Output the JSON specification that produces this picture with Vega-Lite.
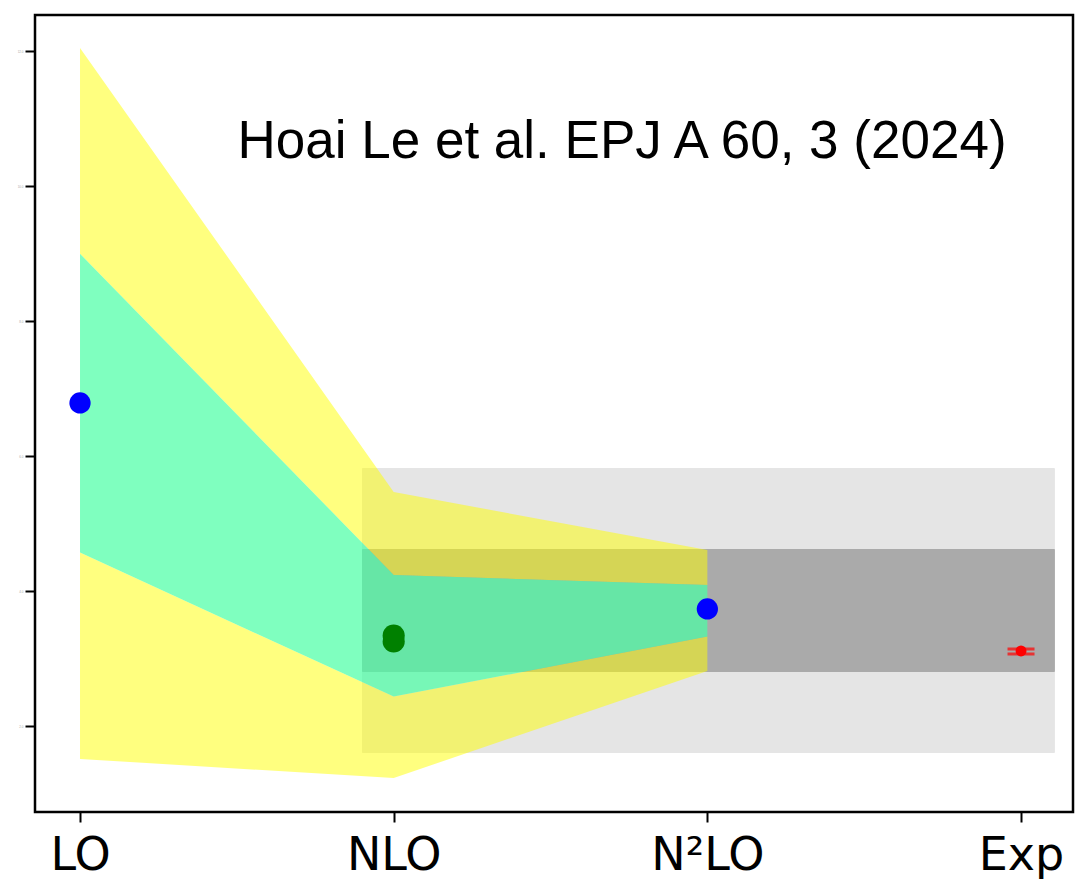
{
  "$schema": "https://vega.github.io/schema/vega-lite/v6.json",
  "width": 1038,
  "height": 797,
  "autosize": {"type": "none"},
  "padding": {"left": 35, "top": 15, "right": 3, "bottom": 67},
  "background": "white",
  "config": {
    "view": {"stroke": "black", "strokeWidth": 2.5},
    "axis": {"grid": false, "domain": false, "title": null, "tickColor": "black", "tickWidth": 2, "tickSize": 10}
  },
  "datasets": {
    "bands": [
      {"order": 0, "yellow_hi": 12.049, "yellow_lo": 1.516, "green_hi": 9.0, "green_lo": 4.573},
      {"order": 1, "yellow_hi": 5.471, "yellow_lo": 1.234, "green_hi": 4.241, "green_lo": 2.44},
      {"order": 2, "yellow_hi": 4.612, "yellow_lo": 2.819, "green_hi": 4.093, "green_lo": 3.329}
    ],
    "boxes": [
      {"shade": "light", "x0": 0.899, "x1": 3.108, "lo": 1.605, "hi": 5.827},
      {"shade": "dark", "x0": 0.899, "x1": 3.108, "lo": 2.804, "hi": 4.627}
    ],
    "points": [
      {"order": 0, "value": 6.79, "series": "blue"},
      {"order": 2, "value": 3.738, "series": "blue"},
      {"order": 1, "value": 3.345, "series": "green"},
      {"order": 1, "value": 3.256, "series": "green"}
    ],
    "exp": [
      {"order": 3, "value": 3.116, "lo": 3.071, "hi": 3.145}
    ],
    "note": [
      {"order": 1.728, "value": 10.42, "text": "Hoai Le et al. EPJ A 60, 3 (2024)"}
    ]
  },
  "layer": [
    {
      "data": {"name": "boxes"},
      "transform": [{"filter": "datum.shade == 'light'"}],
      "mark": {"type": "rect", "cornerRadius": 1, "color": "#e5e5e5"},
      "encoding": {
        "x": {"field": "x0", "type": "quantitative", "scale": {"domain": [-0.1435, 3.1657], "nice": false, "zero": false},
              "axis": {"values": [0, 1, 2, 3], "labelFont": "DejaVu Sans", "labelFontSize": 46, "labelColor": "black", "labelPadding": 11,
                       "labelExpr": "datum.value == 0 ? 'LO' : datum.value == 1 ? 'NLO' : datum.value == 2 ? 'N²LO' : 'Exp'"}},
        "x2": {"field": "x1"},
        "y": {"field": "lo", "type": "quantitative", "scale": {"domain": [0.73, 12.538], "nice": false, "zero": false},
              "axis": {"values": [2, 4, 6, 8, 10, 12], "labelFontSize": 3, "labelColor": "#aaaaaa", "labelPadding": 2}},
        "y2": {"field": "hi"}
      }
    },
    {
      "data": {"name": "boxes"},
      "transform": [{"filter": "datum.shade == 'dark'"}],
      "mark": {"type": "rect", "cornerRadius": 1, "color": "#aaaaaa"},
      "encoding": {
        "x": {"field": "x0", "type": "quantitative"},
        "x2": {"field": "x1"},
        "y": {"field": "lo", "type": "quantitative"},
        "y2": {"field": "hi"}
      }
    },
    {
      "data": {"name": "bands"},
      "mark": {"type": "area", "color": "#ffff00", "opacity": 0.5},
      "encoding": {
        "x": {"field": "order", "type": "quantitative"},
        "y": {"field": "yellow_hi", "type": "quantitative"},
        "y2": {"field": "green_hi"}
      }
    },
    {
      "data": {"name": "bands"},
      "mark": {"type": "area", "color": "#ffff00", "opacity": 0.5},
      "encoding": {
        "x": {"field": "order", "type": "quantitative"},
        "y": {"field": "green_lo", "type": "quantitative"},
        "y2": {"field": "yellow_lo"}
      }
    },
    {
      "data": {"name": "bands"},
      "mark": {"type": "area", "color": "#48ffa4", "opacity": 0.7},
      "encoding": {
        "x": {"field": "order", "type": "quantitative"},
        "y": {"field": "green_hi", "type": "quantitative"},
        "y2": {"field": "green_lo"}
      }
    },
    {
      "data": {"name": "points"},
      "transform": [{"filter": "datum.series == 'green'"}],
      "mark": {"type": "circle", "opacity": 1, "color": "#008000", "size": 490},
      "encoding": {
        "x": {"field": "order", "type": "quantitative"},
        "y": {"field": "value", "type": "quantitative"}
      }
    },
    {
      "data": {"name": "points"},
      "transform": [{"filter": "datum.series == 'blue'"}],
      "mark": {"type": "circle", "opacity": 1, "color": "#0000ff", "size": 452},
      "encoding": {
        "x": {"field": "order", "type": "quantitative"},
        "y": {"field": "value", "type": "quantitative"}
      }
    },
    {
      "data": {"name": "exp"},
      "mark": {"type": "tick", "orient": "horizontal", "size": 27, "thickness": 3, "color": "#ff0000"},
      "encoding": {
        "x": {"field": "order", "type": "quantitative"},
        "y": {"field": "lo", "type": "quantitative"}
      }
    },
    {
      "data": {"name": "exp"},
      "mark": {"type": "tick", "orient": "horizontal", "size": 27, "thickness": 3, "color": "#ff0000"},
      "encoding": {
        "x": {"field": "order", "type": "quantitative"},
        "y": {"field": "hi", "type": "quantitative"}
      }
    },
    {
      "data": {"name": "exp"},
      "mark": {"type": "rule", "color": "#ff0000", "strokeWidth": 3},
      "encoding": {
        "x": {"field": "order", "type": "quantitative"},
        "y": {"field": "lo", "type": "quantitative"},
        "y2": {"field": "hi"}
      }
    },
    {
      "data": {"name": "exp"},
      "mark": {"type": "circle", "color": "#ff0000", "opacity": 1, "size": 120},
      "encoding": {
        "x": {"field": "order", "type": "quantitative"},
        "y": {"field": "value", "type": "quantitative"}
      }
    },
    {
      "data": {"name": "note"},
      "mark": {"type": "text", "font": "Liberation Sans", "fontSize": 53, "align": "center", "baseline": "alphabetic", "color": "black"},
      "encoding": {
        "x": {"field": "order", "type": "quantitative"},
        "y": {"field": "value", "type": "quantitative"},
        "text": {"field": "text"}
      }
    }
  ]
}
